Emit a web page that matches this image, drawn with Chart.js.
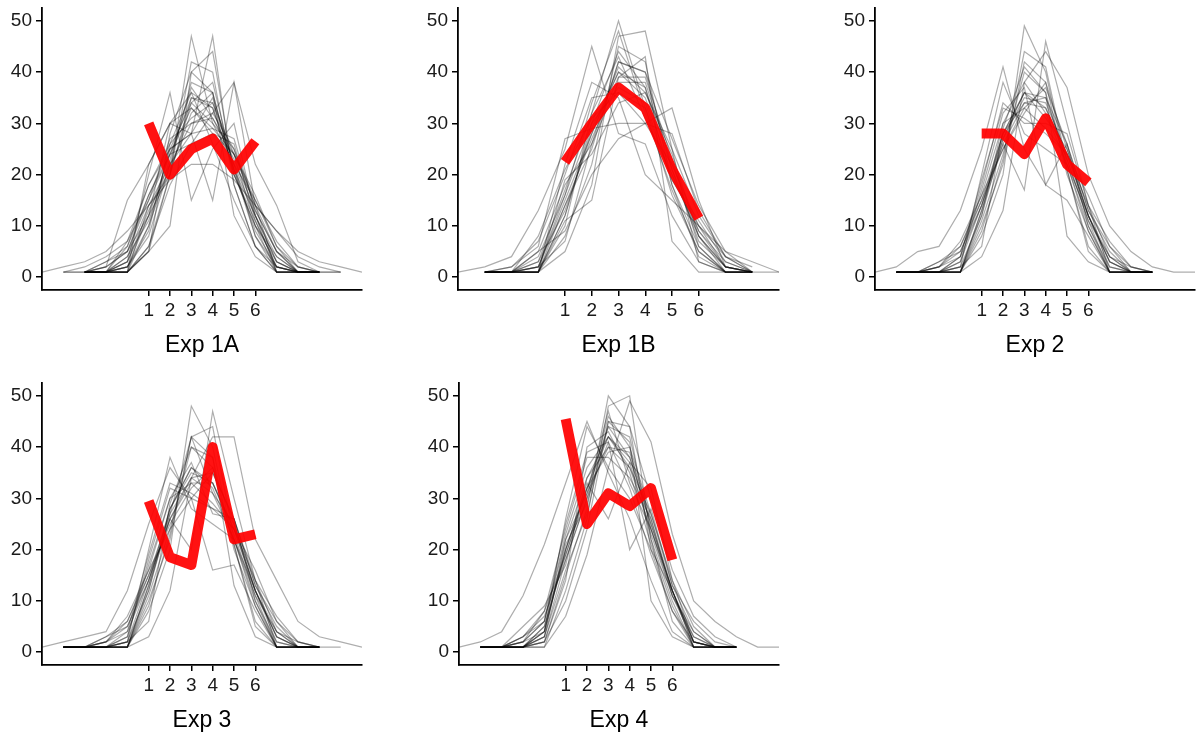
<!DOCTYPE html>
<html>
<head>
<meta charset="utf-8">
<script src="https://cdn.jsdelivr.net/npm/chart.js@4.4.1/dist/chart.umd.min.js"></script>
<style>
  body { margin: 0; background: #fff; width: 1196px; height: 733px; overflow: hidden; position: relative; }
  canvas { position: absolute; }
</style>
</head>
<body>
<canvas id="exp1a" width="380" height="362" style="left:0;top:0"></canvas>
<canvas id="exp1b" width="380" height="362" style="left:416px;top:0"></canvas>
<canvas id="exp2" width="363" height="362" style="left:833px;top:0"></canvas>
<canvas id="exp3" width="380" height="362" style="left:0;top:375px"></canvas>
<canvas id="exp4" width="380" height="362" style="left:417px;top:375px"></canvas>
<script>
const _ = null;

// x positions of the simulated curves
const xsWide = [-4, -3, -2, -1, 0, 1, 2, 3, 4, 5, 6, 7, 8, 9, 10, 11];
const xs1B = [-3, -2, -1, 0, 1, 2, 3, 4, 5, 6, 7, 8, 9];
const positions = [1, 2, 3, 4, 5, 6];
const yTicks = [0, 10, 20, 30, 40, 50];

// observed (red) lines
const obs1A = [30, 20, 25, 27, 21, 26.5];
const obs1B = [22.5, 30, 37, 33, 21, 11.5];
const obs2 = [28, 28, 24, 31, 22, 18.5];
const obs3 = [29.5, 18.5, 17, 40, 22, 23];
const obs4 = [45.5, 25, 31, 28.5, 32, 18];

// simulated (grey) lines
const sims1A = [
  [_, _, 1, 1, 3, 12, 24, 35, 34, 22, 12, 3, 1, 1, _, _],
  [_, _, 1, 1, 1, 10, 22, 38, 36, 20, 10, 1, 1, 1, _, _],
  [_, _, 1, 2, 5, 15, 27, 30, 32, 25, 14, 5, 2, 1, _, _],
  [_, _, 1, 1, 1, 5, 20, 42, 40, 18, 6, 1, 1, 1, _, _],
  [_, 1, 1, 1, 2, 12, 30, 33, 28, 26, 11, 2, 1, 1, 1, _],
  [_, _, 1, 1, 7, 18, 25, 28, 35, 22, 15, 6, 1, 1, _, _],
  [_, _, 1, 1, 1, 14, 20, 34, 30, 25, 12, 1, 1, 1, _, _],
  [_, _, 1, 1, 2, 9, 26, 36, 33, 21, 9, 2, 1, 1, _, _],
  [_, _, 1, 1, 4, 14, 22, 30, 31, 23, 13, 5, 1, 1, _, _],
  [_, _, 1, 3, 6, 16, 25, 28, 29, 24, 15, 7, 2, 1, _, _],
  [_, 1, 1, 3, 5, 12, 20, 35, 33, 21, 12, 4, 1, 1, 1, _],
  [_, _, 1, 2, 15, 22, 30, 36, 26, 15, 6, 1, 1, 1, _, _],
  [_, _, 1, 1, 1, 6, 18, 26, 32, 38, 22, 14, 3, 1, _, _],
  [_, 1, 2, 4, 7, 15, 24, 26, 28, 24, 14, 9, 4, 2, 1, _],
  [_, _, 1, 1, 1, 6, 20, 47, 30, 22, 8, 1, 1, 1, _, _],
  [_, _, 1, 1, 2, 8, 22, 28, 47, 18, 6, 2, 1, 1, _, _],
  [_, _, 1, 1, 3, 20, 36, 15, 25, 30, 12, 3, 1, 1, _, _],
  [_, _, 1, 1, 1, 22, 30, 28, 15, 38, 14, 1, 1, 1, _, _],
  [_, _, 1, 1, 1, 5, 28, 40, 36, 12, 4, 1, 1, 1, _, _],
  [1, 2, 3, 5, 9, 14, 19, 22, 22, 19, 14, 9, 5, 3, 2, 1],
  [_, _, 1, 1, 4, 11, 23, 37, 31, 24, 10, 4, 1, 1, _, _],
  [_, _, 1, 1, 3, 13, 21, 32, 36, 20, 11, 2, 1, 1, _, _],
  [_, _, 1, 2, 5, 16, 24, 33, 29, 27, 13, 5, 1, 1, _, _],
  [_, _, 1, 1, 1, 5, 10, 40, 44, 20, 10, 3, 1, 1, _, _],
  [_, _, 1, 1, 6, 18, 26, 31, 34, 24, 16, 6, 2, 1, _, _],
  [_, _, 1, 1, 2, 10, 25, 34, 38, 21, 8, 2, 1, 1, _, _]
];

const sims1B = [
  [_, 1, 1, 2, 15, 28, 40, 35, 20, 8, 2, 1, _],
  [_, 1, 1, 1, 12, 30, 44, 37, 18, 6, 1, 1, _],
  [_, 1, 1, 5, 18, 26, 38, 38, 22, 9, 3, 1, _],
  [_, 1, 1, 1, 10, 32, 50, 33, 16, 5, 1, 1, _],
  [_, 1, 1, 2, 14, 25, 42, 40, 21, 7, 2, 1, _],
  [_, 1, 2, 7, 20, 35, 36, 30, 22, 10, 4, 1, _],
  [_, 1, 1, 1, 8, 22, 45, 42, 18, 4, 1, 1, _],
  [_, 1, 1, 4, 16, 30, 37, 34, 19, 11, 3, 1, _],
  [_, 1, 1, 3, 13, 28, 41, 36, 24, 8, 2, 1, _],
  [1, 2, 4, 13, 25, 45, 28, 26, 12, 3, 1, 1, 1],
  [_, 1, 1, 1, 5, 18, 47, 48, 25, 3, 1, 1, _],
  [_, 1, 1, 1, 22, 38, 35, 20, 15, 10, 5, 3, 1],
  [_, 1, 2, 6, 27, 29, 30, 30, 33, 15, 2, 1, _],
  [_, 1, 1, 1, 11, 15, 39, 43, 7, 1, 1, 1, _],
  [_, 1, 1, 3, 17, 32, 43, 31, 20, 9, 2, 1, _],
  [_, 1, 1, 1, 14, 27, 39, 39, 23, 6, 1, 1, _],
  [_, 1, 1, 2, 16, 34, 48, 32, 17, 5, 1, 1, _],
  [_, 1, 1, 1, 19, 24, 34, 36, 25, 12, 4, 1, _],
  [_, 1, 1, 5, 9, 20, 27, 30, 28, 13, 4, 2, _],
  [_, 1, 1, 1, 12, 29, 40, 37, 21, 8, 1, 1, _],
  [_, 1, 1, 8, 21, 31, 36, 33, 19, 10, 2, 1, _],
  [_, 1, 1, 2, 7, 26, 42, 40, 27, 14, 5, 1, _]
];

const sims2 = [
  [_, 1, 1, 1, 3, 14, 27, 35, 34, 24, 12, 3, 1, 1, _, _],
  [_, 1, 1, 1, 1, 12, 30, 38, 32, 22, 10, 1, 1, 1, _, _],
  [_, 1, 1, 2, 6, 16, 25, 33, 37, 26, 13, 6, 2, 1, _, _],
  [_, 1, 1, 1, 1, 10, 22, 42, 38, 20, 9, 1, 1, 1, _, _],
  [_, 1, 1, 1, 4, 18, 34, 30, 30, 28, 14, 4, 1, 1, _, _],
  [_, 1, 1, 3, 5, 15, 28, 36, 35, 23, 11, 4, 1, 1, _, _],
  [_, 1, 1, 1, 1, 8, 20, 49, 40, 21, 6, 1, 1, 1, _, _],
  [_, 1, 1, 1, 2, 20, 38, 28, 25, 22, 12, 2, 1, 1, _, _],
  [_, 1, 1, 1, 1, 13, 26, 17, 46, 30, 14, 1, 1, 1, _, _],
  [1, 2, 5, 6, 13, 25, 41, 25, 18, 15, 8, 1, 1, 1, _, _],
  [_, 1, 1, 1, 1, 4, 13, 38, 44, 37, 20, 10, 5, 2, 1, 1],
  [_, 1, 1, 1, 2, 12, 27, 36, 31, 25, 12, 3, 1, 1, _, _],
  [_, 1, 1, 2, 7, 16, 30, 33, 29, 24, 14, 7, 2, 1, _, _],
  [_, 1, 1, 1, 1, 11, 24, 40, 36, 8, 3, 1, 1, 1, _, _],
  [_, 1, 1, 2, 5, 14, 28, 34, 33, 24, 12, 3, 1, 1, _, _],
  [_, 1, 1, 1, 3, 17, 32, 37, 18, 26, 10, 2, 1, 1, _, _],
  [_, 1, 1, 1, 1, 9, 23, 44, 41, 22, 9, 1, 1, 1, _, _],
  [_, 1, 1, 1, 4, 14, 26, 34, 35, 26, 13, 5, 1, 1, _, _],
  [_, 1, 1, 1, 1, 13, 28, 36, 33, 23, 11, 1, 1, 1, _, _],
  [_, 1, 1, 3, 6, 15, 25, 32, 38, 25, 12, 4, 2, 1, _, _],
  [_, 1, 1, 1, 2, 6, 29, 41, 36, 21, 5, 1, 1, 1, _, _],
  [_, 1, 1, 2, 4, 19, 33, 31, 28, 24, 16, 6, 1, 1, _, _]
];

const sims3 = [
  [_, 1, 1, 1, 2, 14, 26, 33, 33, 24, 12, 3, 1, 1, 1, _],
  [_, 1, 1, 1, 1, 12, 28, 36, 32, 22, 10, 1, 1, 1, _, _],
  [_, 1, 1, 2, 6, 16, 24, 30, 35, 26, 13, 6, 2, 1, _, _],
  [_, 1, 1, 1, 1, 10, 22, 42, 38, 20, 9, 1, 1, 1, _, _],
  [_, 1, 1, 1, 3, 18, 32, 30, 28, 26, 14, 4, 1, 1, _, _],
  [_, 1, 1, 3, 5, 15, 27, 34, 31, 22, 11, 4, 1, 1, _, _],
  [_, 1, 1, 1, 1, 8, 20, 48, 40, 21, 6, 1, 1, 1, _, _],
  [_, 1, 1, 1, 2, 20, 38, 28, 25, 22, 12, 2, 1, 1, _, _],
  [_, 1, 1, 1, 1, 13, 26, 20, 47, 30, 14, 1, 1, 1, _, _],
  [1, 2, 3, 4, 12, 25, 36, 30, 16, 17, 8, 1, 1, 1, _, _],
  [_, 1, 1, 1, 1, 3, 12, 34, 42, 42, 22, 14, 6, 3, 2, 1],
  [_, 1, 1, 1, 2, 12, 27, 42, 31, 25, 12, 3, 1, 1, _, _],
  [_, 1, 1, 2, 7, 16, 30, 33, 29, 24, 14, 7, 2, 1, _, _],
  [_, 1, 1, 1, 1, 11, 24, 40, 38, 13, 3, 1, 1, 1, _, _],
  [_, 1, 1, 2, 5, 14, 28, 35, 33, 24, 12, 3, 1, 1, _, _],
  [_, 1, 1, 1, 3, 17, 30, 37, 27, 26, 10, 2, 1, 1, _, _],
  [_, 1, 1, 1, 1, 9, 23, 42, 44, 22, 9, 1, 1, 1, _, _],
  [_, 1, 1, 1, 4, 14, 26, 34, 35, 26, 13, 5, 1, 1, _, _],
  [_, 1, 1, 1, 1, 13, 28, 36, 33, 23, 11, 1, 1, 1, _, _],
  [_, 1, 1, 3, 6, 15, 25, 32, 36, 25, 12, 4, 2, 1, _, _],
  [_, 1, 1, 1, 2, 6, 29, 40, 36, 21, 5, 1, 1, 1, _, _],
  [_, 1, 1, 2, 4, 19, 33, 31, 28, 24, 16, 6, 1, 1, _, _]
];

const sims4 = [
  [_, 1, 1, 1, 4, 20, 32, 42, 38, 25, 12, 2, 1, 1, _, _],
  [_, 1, 1, 1, 3, 18, 30, 46, 40, 22, 10, 1, 1, 1, _, _],
  [_, 1, 1, 3, 6, 22, 34, 40, 36, 27, 14, 5, 1, 1, _, _],
  [_, 1, 1, 1, 2, 15, 28, 50, 44, 20, 8, 1, 1, 1, _, _],
  [_, 1, 1, 2, 8, 24, 38, 38, 34, 26, 12, 2, 1, 1, _, _],
  [_, 1, 1, 1, 5, 19, 32, 44, 42, 24, 11, 3, 1, 1, _, _],
  [_, 1, 1, 1, 1, 12, 26, 48, 50, 22, 6, 1, 1, 1, _, _],
  [_, 1, 1, 2, 4, 26, 44, 36, 30, 20, 12, 3, 1, 1, _, _],
  [1, 2, 4, 11, 21, 33, 45, 35, 26, 14, 4, 1, 1, 1, _, _],
  [_, 1, 1, 1, 1, 7, 19, 36, 49, 41, 23, 10, 6, 3, 1, 1],
  [_, 1, 1, 1, 4, 20, 33, 26, 37, 32, 14, 2, 1, 1, _, _],
  [_, 1, 1, 3, 7, 18, 30, 41, 20, 28, 13, 6, 2, 1, _, _],
  [_, 1, 1, 1, 3, 16, 27, 45, 41, 10, 3, 1, 1, 1, _, _],
  [_, 1, 1, 2, 6, 23, 36, 42, 36, 24, 12, 2, 1, 1, _, _],
  [_, 1, 1, 3, 8, 19, 31, 40, 39, 26, 11, 4, 1, 1, _, _],
  [_, 1, 1, 1, 4, 21, 29, 44, 38, 25, 12, 1, 1, 1, _, _],
  [_, 1, 1, 1, 2, 14, 40, 43, 35, 21, 9, 1, 1, 1, _, _],
  [_, 1, 1, 1, 5, 20, 32, 39, 40, 27, 13, 4, 1, 1, _, _],
  [_, 1, 1, 5, 9, 17, 34, 42, 37, 23, 11, 2, 1, 1, _, _],
  [_, 1, 1, 1, 3, 22, 31, 47, 33, 24, 12, 1, 1, 1, _, _],
  [_, 1, 1, 1, 2, 10, 24, 45, 44, 30, 16, 7, 3, 1, _, _],
  [_, 1, 1, 2, 6, 25, 39, 41, 32, 19, 8, 2, 1, 1, _, _]
];

const fontFamily = "'Liberation Sans', Arial, Helvetica, sans-serif";

function toPoints(xs, ys) {
  return xs.map((x, i) => ({ x: x, y: ys[i] })).filter(p => p.y !== null);
}

function drawPanel(id, title, xs, sims, observed, plotRight) {
  const canvas = document.getElementById(id);
  const datasets = [{
    data: toPoints(positions, observed),
    borderColor: 'rgba(255, 0, 0, 0.93)',
    borderWidth: 10,
    borderJoinStyle: 'round',
    borderCapStyle: 'butt',
    pointRadius: 0,
    tension: 0
  }];
  sims.forEach(s => {
    datasets.push({
      data: toPoints(xs, s),
      borderColor: 'rgba(0, 0, 0, 0.32)',
      borderWidth: 1.2,
      pointRadius: 0,
      tension: 0
    });
  });

  new Chart(canvas, {
    type: 'line',
    data: { datasets: datasets },
    options: {
      responsive: false,
      animation: false,
      events: [],
      layout: { padding: { left: 0, top: 8, right: canvas.width - plotRight, bottom: 0 } },
      plugins: { legend: { display: false }, tooltip: { enabled: false } },
      scales: {
        x: {
          type: 'linear',
          min: xs[0],
          max: xs[xs.length - 1],
          afterBuildTicks: scale => { scale.ticks = positions.map(v => ({ value: v })); },
          afterFit: scale => { scale.height = 72; scale.paddingLeft = 0; scale.paddingRight = 0; },
          grid: { drawOnChartArea: false, drawTicks: true, tickLength: 6, color: '#000', lineWidth: 1.5 },
          border: { display: true, color: '#000', width: 1.8 },
          ticks: { color: '#1a1a1a', font: { size: 19, family: fontFamily }, padding: 3, maxRotation: 0, autoSkip: false },
          title: { display: true, text: title, color: '#000', font: { size: 23, family: fontFamily }, padding: { top: 0, bottom: 3 } }
        },
        y: {
          min: -2.5,
          max: 52.5,
          afterBuildTicks: scale => { scale.ticks = yTicks.map(v => ({ value: v })); },
          afterFit: scale => { scale.width = 42; scale.paddingTop = 0; scale.paddingBottom = 0; },
          grid: { drawOnChartArea: false, drawTicks: true, tickLength: 6, color: '#000', lineWidth: 1.5 },
          border: { display: true, color: '#000', width: 1.8 },
          ticks: { color: '#1a1a1a', font: { size: 19, family: fontFamily }, padding: 4 }
        }
      }
    }
  });
}

drawPanel('exp1a', 'Exp 1A', xsWide, sims1A, obs1A, 362);
drawPanel('exp1b', 'Exp 1B', xs1B, sims1B, obs1B, 363);
drawPanel('exp2', 'Exp 2', xsWide, sims2, obs2, 362);
drawPanel('exp3', 'Exp 3', xsWide, sims3, obs3, 362);
drawPanel('exp4', 'Exp 4', xsWide, sims4, obs4, 362);
</script>
</body>
</html>
